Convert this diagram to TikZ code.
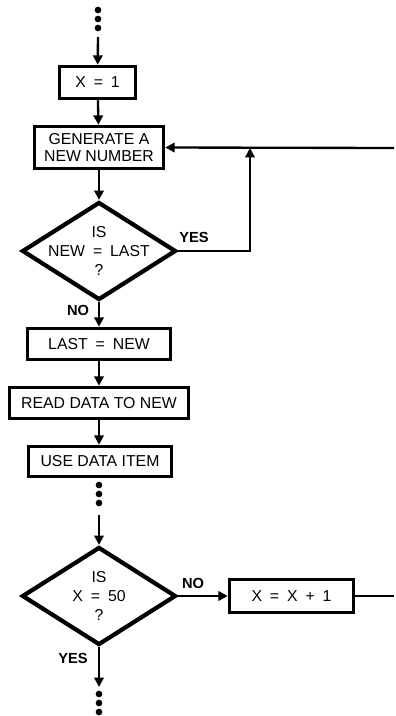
\documentclass[tikz,border=0pt]{standalone}
\usepackage{fontspec}
\setmainfont{Liberation Sans}
\usetikzlibrary{shapes.geometric,arrows.meta}
\newcommand\iseq{\enspace=\enspace}

\begin{document}
\begin{tikzpicture}[x=0.03cm, y=-0.03cm,
		every node/.style={font=\fontsize{13.5}{16.5}\selectfont},
		box/.style={draw, line width=3pt, inner sep=0pt},
		decision/.style={draw, diamond, line width=3.6pt, inner sep=0pt, minimum width=4.62cm, minimum height=2.94cm},
		flag/.style={font=\fontsize{12.5}{14}\selectfont\bfseries},
		flow/.style={line width=2pt, -{Triangle[length=8pt,width=8pt]}},
		line/.style={line width=2pt}]
		\path (0,0) rectangle (394,716);
		% boxes and decisions
		\node[box, minimum width=2.28cm, minimum height=0.96cm] (xone) at (97.5,82.5) {X\iseq 1};
		\node[box, minimum width=3.87cm, minimum height=1.26cm, align=center, font=\fontsize{13.5}{14.5}\selectfont] (gen) at (99,147.5) {GENERATE A\\NEW NUMBER};
		\node[decision, label={[align=center]center:IS\\NEW\iseq LAST\\?}] (ask) at (99,251) {};
		\node[box, minimum width=4.29cm, minimum height=0.93cm] (lastnew) at (99,344) {LAST\iseq NEW};
		\node[box, minimum width=5.37cm, minimum height=0.93cm] (readnew) at (99,403) {READ DATA TO NEW};
		\node[box, minimum width=4.29cm, minimum height=0.9cm] (useitem) at (100,461.5) {USE DATA ITEM};
		\node[decision, label={[align=center]center:IS\\X\iseq 50\\?}] (count) at (99,596) {};
		\node[box, minimum width=3.72cm, minimum height=0.99cm] (incr) at (291.5,596) {X\iseq X\enspace+\enspace1};
		% branch labels
		\node[flag] (yesa) at (194,237) {YES};
		\node[flag] (noa) at (78,310) {NO};
		\node[flag] (nob) at (193,583) {NO};
		\node[flag] (yesb) at (73,658) {YES};
		% free ends
		\coordinate (topin) at (98,37);
		\coordinate (loopin) at (394,148);
		\coordinate (join) at (250,148);
		\coordinate (midin) at (99,515);
		\coordinate (botout) at (99,687);
		\coordinate (incrout) at (394,596);
		% dots
		\foreach \y in {10,19,28} \fill (98,\y) circle (0.1cm);
		\foreach \y in {485,494,503} \fill (99,\y) circle (0.1cm);
		\foreach \y in {694,703,712} \fill (99,\y) circle (0.1cm);
		% connectors
		\draw[flow] (topin) -- (xone);
		\draw[flow] (xone) -- (gen);
		\draw[flow] (gen) -- (ask);
		\draw[flow] (loopin) -- (gen.east);
		\draw[flow] (ask.east) -- (join |- ask.east) -- (join);
		\draw[flow] (ask) -- (lastnew);
		\draw[flow] (lastnew) -- (readnew);
		\draw[flow] (readnew) -- (useitem.north -| readnew.south);
		\draw[flow] (midin) -- (count);
		\draw[flow] (count) -- (incr);
		\draw[line] (incr) -- (incrout);
		\draw[flow] (count) -- (botout);
	\end{tikzpicture}
\end{document}
